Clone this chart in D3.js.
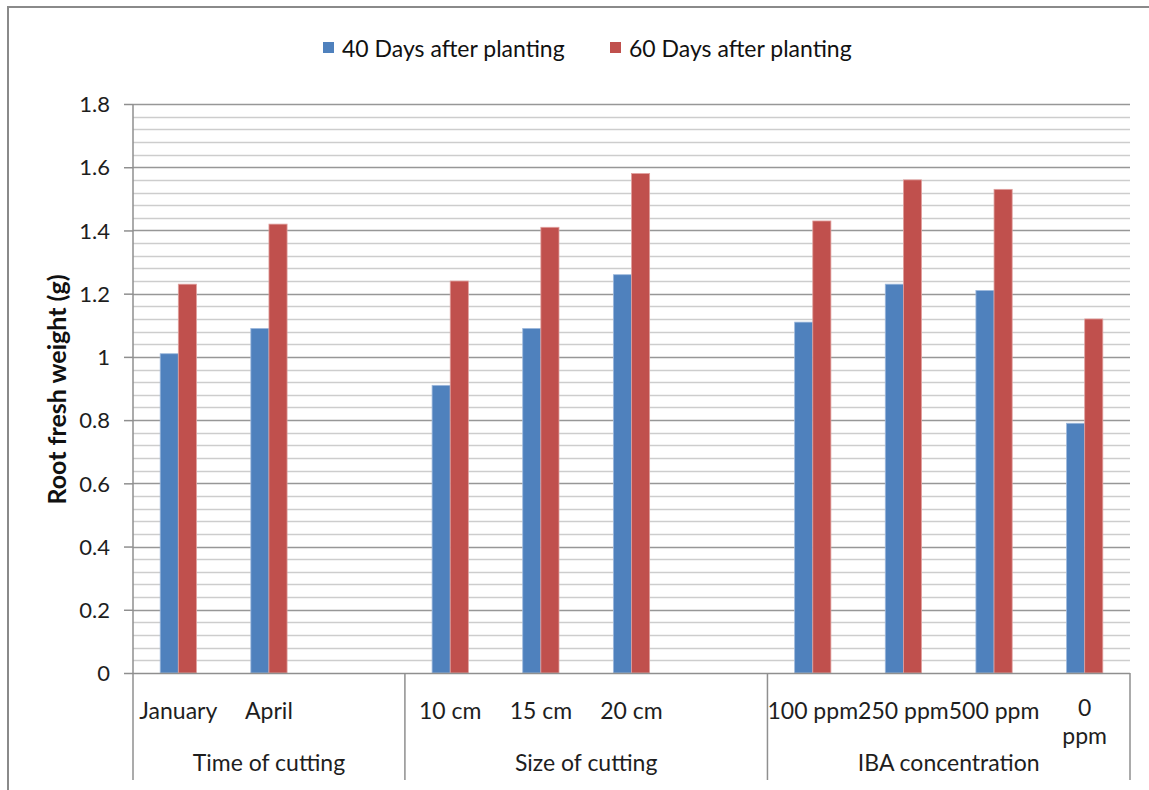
<!DOCTYPE html>
<html>
<head>
<meta charset="utf-8">
<script src="https://cdn.jsdelivr.net/npm/d3@7"></script>
<style>
  html, body { margin: 0; padding: 0; background: #fff; }
  svg { display: block; font-family: Lato, "Open Sans", sans-serif; }
</style>
</head>
<body>
<svg id="chart" width="1149" height="790"></svg>
<script>
// Root fresh weight by treatment, two sampling dates
const categories = ["January", "April", "", "10 cm", "15 cm", "20 cm", "", "100 ppm", "250 ppm", "500 ppm", "0 ppm"];
const groupNames = ["Time of cutting", "Size of cutting", "IBA concentration"];
const groupStart = [0, 3, 7];   // first slot index of each group
const groupEnd = [2, 6, 10];    // last slot index of each group
const days40 = [1.01, 1.09, null, 0.91, 1.09, 1.26, null, 1.11, 1.23, 1.21, 0.79];
const days60 = [1.23, 1.42, null, 1.24, 1.41, 1.58, null, 1.43, 1.56, 1.53, 1.12];
const seriesNames = ["40 Days after planting", "60 Days after planting"];
const seriesColors = ["#4F81BD", "#C0504D"];
const yTicks = [0, 0.2, 0.4, 0.6, 0.8, 1, 1.2, 1.4, 1.6, 1.8];

const svg = d3.select("#chart");
const W = 1149, H = 790;
const plot = { left: 133, right: 1130, top: 104, bottom: 673 };
const textColor = "#1e1e1e";

// outer frame
svg.append("rect")
  .attr("x", 8).attr("y", 7)
  .attr("width", W + 20).attr("height", H + 20)
  .attr("fill", "none").attr("stroke", "#8a8a8a").attr("stroke-width", 2);

const y = d3.scaleLinear().domain([0, 1.8]).range([plot.bottom, plot.top]);
const x = d3.scaleBand()
  .domain(d3.range(categories.length))
  .range([plot.left, plot.right])
  .paddingInner(0.6).paddingOuter(0.3);
const xs = d3.scaleBand().domain([0, 1]).range([0, x.bandwidth()]);

// minor and major gridlines
const minor = d3.range(0, 1.8001, 0.04).filter(v => Math.abs(Math.round(v / 0.2) * 0.2 - v) > 1e-6);
svg.append("g").selectAll("line").data(minor).join("line")
  .attr("x1", plot.left).attr("x2", plot.right)
  .attr("y1", d => Math.round(y(d)) + 0.5).attr("y2", d => Math.round(y(d)) + 0.5)
  .attr("stroke", "#cdcdcd").attr("stroke-width", 1.5);
svg.append("g").selectAll("line").data(yTicks.slice(1)).join("line")
  .attr("x1", plot.left).attr("x2", plot.right)
  .attr("y1", d => Math.round(y(d)) + 0.5).attr("y2", d => Math.round(y(d)) + 0.5)
  .attr("stroke", "#979797").attr("stroke-width", 1.5);

// bars
const rows = categories.map((c, i) => ({ i, vals: [days40[i], days60[i]] }));
const barG = svg.append("g");
rows.forEach(r => {
  r.vals.forEach((v, s) => {
    if (v == null) return;
    barG.append("rect")
      .attr("x", x(r.i) + xs(s))
      .attr("y", y(v))
      .attr("width", xs.bandwidth())
      .attr("height", y(0) - y(v))
      .attr("fill", seriesColors[s])
      .attr("stroke", s === 0 ? "#9db8dc" : "#e0a09e")
      .attr("stroke-width", 0.8);
  });
});

// y axis
const yAxis = svg.append("g")
  .attr("transform", `translate(${plot.left},0)`)
  .call(d3.axisLeft(y).tickValues(yTicks).tickSize(9).tickPadding(14).tickFormat(d3.format("~g")));
yAxis.select(".domain").attr("stroke", "#8f8f8f").attr("stroke-width", 1.5)
  .attr("d", `M0,${plot.top}V${H - 10}`);
yAxis.selectAll(".tick line").attr("stroke", "#8f8f8f").attr("stroke-width", 1.5);
yAxis.selectAll(".tick text").attr("fill", textColor).style("font-size", "22px")
  .style("font-family", "Lato, sans-serif").attr("dy", "0.35em");

// category axis baseline and group separators
svg.append("line")
  .attr("x1", plot.left).attr("x2", plot.right)
  .attr("y1", plot.bottom + 0.5).attr("y2", plot.bottom + 0.5)
  .attr("stroke", "#8f8f8f").attr("stroke-width", 1.5);
const step = x.step();
const bandStart = i => x(i) - step * x.paddingInner() / 2;
const bandEnd = i => x(i) + x.bandwidth() + step * x.paddingInner() / 2;
svg.append("g").selectAll("line").data(groupEnd).join("line")
  .attr("x1", d => bandEnd(d)).attr("x2", d => bandEnd(d))
  .attr("y1", plot.bottom).attr("y2", H - 10)
  .attr("stroke", "#8f8f8f").attr("stroke-width", 1.5);

// category labels (the narrow last label wraps onto two lines)
const catG = svg.append("g").attr("fill", textColor).style("font-size", "23px");
categories.forEach((c, i) => {
  if (!c) return;
  const lines = c === "0 ppm" ? ["0", "ppm"] : [c];
  const cx = x(i) + x.bandwidth() / 2;
  lines.forEach((l, k) => {
    catG.append("text")
      .attr("text-anchor", "middle")
      .attr("x", cx)
      .attr("y", lines.length > 1 ? 716 + k * 28 : 719)
      .text(l);
  });
});

// group labels
svg.append("g").attr("fill", textColor).style("font-size", "23px")
  .selectAll("text").data(groupNames).join("text")
  .attr("text-anchor", "middle")
  .attr("x", (d, g) => (bandStart(groupStart[g]) + bandEnd(groupEnd[g])) / 2)
  .attr("y", 771)
  .text(d => d);

// y axis title
svg.append("text")
  .attr("transform", `translate(66,${(plot.top + plot.bottom) / 2 + 1}) rotate(-90)`)
  .attr("text-anchor", "middle")
  .attr("fill", "#111")
  .style("font-size", "25px").style("font-weight", "bold")
  .text("Root fresh weight (g)");

// legend
const legendX = [323, 610];
const leg = svg.append("g");
seriesNames.forEach((n, s) => {
  leg.append("rect")
    .attr("x", legendX[s]).attr("y", 42)
    .attr("width", 11).attr("height", 11)
    .attr("fill", seriesColors[s]);
  leg.append("text")
    .attr("x", legendX[s] + 19).attr("y", 57)
    .attr("fill", "#111")
    .style("font-size", "23px")
    .text(n);
});
</script>
</body>
</html>
